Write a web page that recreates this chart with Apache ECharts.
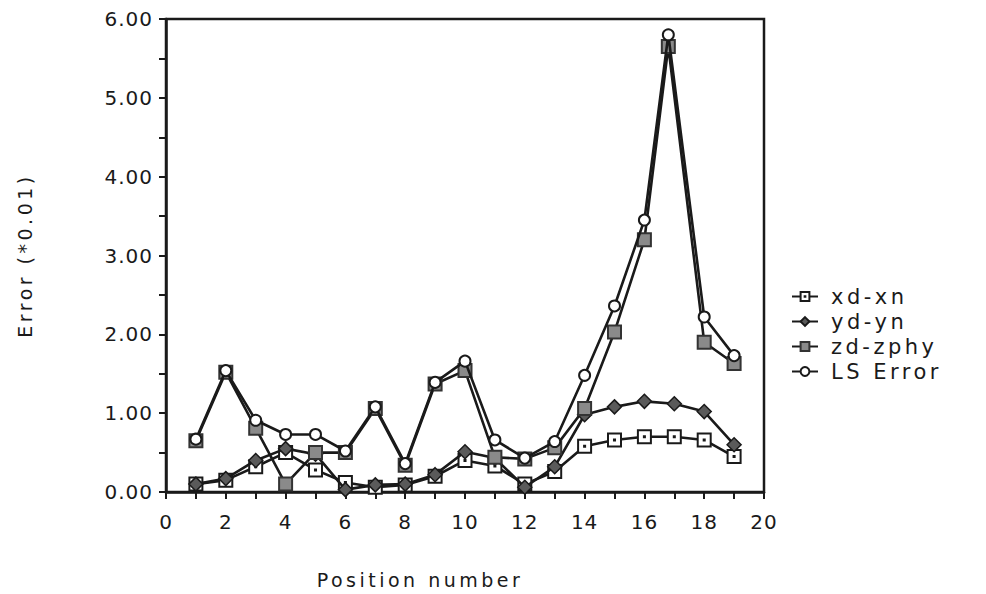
<!DOCTYPE html>
<html>
<head>
<meta charset="utf-8">
<script src="https://cdn.jsdelivr.net/npm/echarts@6/dist/echarts.min.js"></script>
<style>
  html, body { margin: 0; padding: 0; background: #fff; }
  #chart { width: 986px; height: 594px; }
  /* wide, airy lettering: axis titles (19px), legend (21px), tick labels (20px) */
  #chart text[style*="19px"] { letter-spacing: 3.5px; }
  #chart text[style*="21px"] { letter-spacing: 3.5px; }
  #chart text[style*="20px"] { letter-spacing: 1px; }
</style>
</head>
<body>
<div id="chart"></div>
<script>
// Position numbers along the x axis
const positions = [1, 2, 3, 4, 5, 6, 7, 8, 9, 10, 11, 12, 13, 14, 15, 16, 17, 18, 19];
// The plotted peak of zd-zphy / LS Error sits slightly left of position 17
const peakPositions = [1, 2, 3, 4, 5, 6, 7, 8, 9, 10, 11, 12, 13, 14, 15, 16, 16.8, 18, 19];

// Error components (*0.01)
const xdXn = [0.10, 0.15, 0.32, 0.50, 0.28, 0.12, 0.06, 0.09, 0.20, 0.40, 0.33, 0.10, 0.26, 0.58, 0.66, 0.70, 0.70, 0.66, 0.45];
const ydYn = [0.10, 0.17, 0.40, 0.55, 0.48, 0.03, 0.09, 0.10, 0.22, 0.51, 0.43, 0.06, 0.32, 0.98, 1.08, 1.15, 1.12, 1.02, 0.60];
const zdZphy = [0.65, 1.52, 0.81, 0.10, 0.50, 0.50, 1.06, 0.34, 1.37, 1.54, 0.44, 0.42, 0.56, 1.06, 2.03, 3.20, 5.65, 1.90, 1.63];
const lsError = [0.67, 1.54, 0.91, 0.73, 0.73, 0.52, 1.08, 0.36, 1.39, 1.66, 0.66, 0.43, 0.64, 1.48, 2.36, 3.45, 5.80, 2.22, 1.73];

const seriesNames = ['xd-xn', 'yd-yn', 'zd-zphy', 'LS Error'];

const FONT = 'DejaVu Sans';
const INK = '#1a1a1a';

function pairs(xs, ys) {
  return xs.map((x, i) => [x, ys[i]]);
}

// square outline with a centre dot
const dottedSquare = 'path://M0,0H10V10H0Z M4.6,4.6H5.4V5.4H4.6Z';

const chart = echarts.init(document.getElementById('chart'), null, { renderer: 'svg' });

const lineStyle = { color: INK, width: 2.6 };

chart.setOption({
  animation: false,
  backgroundColor: '#fff',
  textStyle: { fontFamily: FONT, color: INK },
  grid: {
    left: 166, top: 19, right: 222, bottom: 100,
    show: true, borderColor: INK, borderWidth: 2.5, backgroundColor: 'transparent'
  },
  legend: {
    orient: 'vertical',
    left: 786, top: 281,
    itemWidth: 26, itemHeight: 11, itemGap: 4,
    textStyle: { fontFamily: FONT, fontSize: 21, color: INK, padding: [0, 0, 0, 8] },
    data: seriesNames
  },
  xAxis: {
    type: 'value',
    min: 0, max: 20, interval: 1,
    name: 'Position number',
    nameLocation: 'middle',
    nameGap: 78,
    nameTextStyle: { fontFamily: FONT, fontSize: 19, color: INK, padding: [0, 90, 0, 0] },
    axisLine: { show: true, lineStyle: { color: INK, width: 2.5 } },
    axisTick: { show: true, inside: false, length: 7, lineStyle: { color: INK, width: 2 } },
    axisLabel: {
      margin: 20, fontFamily: FONT, fontSize: 20, color: INK,
      formatter: v => (v % 2 === 0 ? String(v) : '')
    },
    splitLine: { show: false }
  },
  yAxis: {
    type: 'value',
    min: 0, max: 6, interval: 0.5,
    name: 'Error (*0.01)',
    nameLocation: 'middle',
    nameGap: 132,
    nameRotate: 90,
    nameTextStyle: { fontFamily: FONT, fontSize: 19, color: INK },
    axisLine: { show: true, lineStyle: { color: INK, width: 2.5 } },
    axisTick: { show: true, inside: false, length: 7, lineStyle: { color: INK, width: 2 } },
    axisLabel: {
      margin: 13, fontFamily: FONT, fontSize: 20, color: INK,
      formatter: v => (Number.isInteger(v) ? v.toFixed(2) : '')
    },
    splitLine: { show: false }
  },
  series: [
    {
      name: seriesNames[0], type: 'line', data: pairs(positions, xdXn),
      symbol: dottedSquare, symbolSize: 13,
      itemStyle: { color: '#fff', borderColor: INK, borderWidth: 2 },
      lineStyle, z: 3
    },
    {
      name: seriesNames[1], type: 'line', data: pairs(positions, ydYn),
      symbol: 'diamond', symbolSize: 14,
      itemStyle: { color: '#5a5a5a', borderColor: INK, borderWidth: 1.5 },
      lineStyle, z: 4
    },
    {
      name: seriesNames[2], type: 'line', data: pairs(peakPositions, zdZphy),
      symbol: 'rect', symbolSize: 13,
      itemStyle: { color: '#8a8a8a', borderColor: '#333', borderWidth: 2 },
      lineStyle, z: 5
    },
    {
      name: seriesNames[3], type: 'line', data: pairs(peakPositions, lsError),
      symbol: 'circle', symbolSize: 11,
      itemStyle: { color: '#fff', borderColor: INK, borderWidth: 2 },
      lineStyle, z: 6
    }
  ]
});
</script>
</body>
</html>
